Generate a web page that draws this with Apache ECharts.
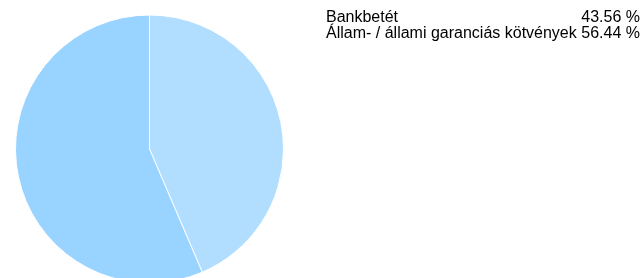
<!DOCTYPE html>
<html>
<head>
<meta charset="utf-8">
<script src="https://cdn.jsdelivr.net/npm/echarts@6/dist/echarts.min.js"></script>
<style>
  html, body { margin: 0; padding: 0; background: #fff; }
  #chart { width: 643px; height: 278px; }
</style>
</head>
<body>
<div id="chart"></div>
<script>
var names = ['Bankbetét', 'Állam- / állami garanciás kötvények'];
var shares = [43.56, 56.44];
var colors = ['#b1ddff', '#99d3ff'];

var pieData = names.map(function (n, i) {
    return { name: n, value: shares[i], itemStyle: { color: colors[i] } };
});

var chart = echarts.init(document.getElementById('chart'));
chart.setOption({
    animation: false,
    backgroundColor: '#fff',
    legend: {
        orient: 'vertical',
        left: 316,
        top: 5,
        icon: 'none',
        itemWidth: 0,
        itemGap: 0,
        selectedMode: false,
        data: names,
        formatter: function (name) {
            var i = names.indexOf(name);
            return '{n|' + name + '}{v|' + shares[i].toFixed(2) + ' %}';
        },
        textStyle: {
            fontFamily: 'Liberation Sans, Arial, sans-serif',
            fontSize: 16,
            color: '#000',
            rich: {
                n: { width: 254, fontSize: 16, lineHeight: 18, color: '#000' },
                v: { width: 60, align: 'right', fontSize: 16, lineHeight: 18, color: '#000' }
            }
        }
    },
    series: [{
        type: 'pie',
        center: [149.5, 149],
        radius: 134,
        startAngle: 90,
        clockwise: true,
        label: { show: false },
        labelLine: { show: false },
        emphasis: { disabled: true },
        itemStyle: { borderColor: '#fff', borderWidth: 1 },
        data: pieData
    }]
});
</script>
</body>
</html>
